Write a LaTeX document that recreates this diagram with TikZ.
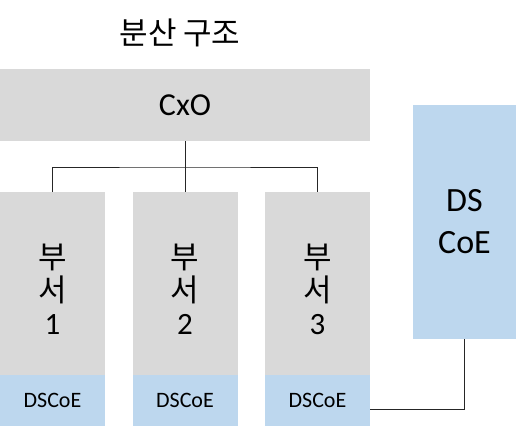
\documentclass[tikz,border=0pt]{standalone}
\usepackage{fontspec}
\setmainfont{Carlito}
\newfontfamily\kr{Noto Sans CJK KR}
\definecolor{boxgray}{HTML}{D9D9D9}
\definecolor{boxblue}{HTML}{BDD7EE}
\begin{document}
\begin{tikzpicture}[x=1pt,y=-1pt,
  graybox/.style={fill=boxgray,draw=none,inner sep=0pt,outer sep=0pt},
  bluebox/.style={fill=boxblue,draw=none,inner sep=0pt,outer sep=0pt},
  conn/.style={draw=black!85,line width=1pt},
  deptlbl/.style={align=center,inner sep=0pt,font=\fontsize{31}{33}\selectfont},
  smalllbl/.style={font=\fontsize{22}{24}\selectfont}]
\useasboundingbox (0,0) rectangle (516,428);
\node[inner sep=0pt,font=\kr\fontsize{31}{34}\selectfont] (title) at (180,33) {분산 구조};
\node[graybox,minimum width=370pt,minimum height=72pt,font=\fontsize{32}{36}\selectfont] (cxo) at (185,105) {CxO};
\foreach \i/\x in {1/52.5,2/185,3/317.5}{
  \node[graybox,minimum width=105pt,minimum height=183pt] (d\i) at (\x,283.5) {};
  \node[deptlbl] (d\i t) at (\x,289) {{\kr 부}\\{\kr 서}\\\i};
  \node[bluebox,minimum width=105pt,minimum height=51pt,smalllbl] (d\i b) at (\x,400.5) {DSCoE};
}
\node[bluebox,minimum width=103pt,minimum height=234pt,align=center,font=\fontsize{34}{42}\selectfont] (ds) at (464.5,222) {DS\\CoE};
\coordinate (j) at (185,167);
\draw[conn] (cxo.south) -- (d2.north);
\draw[conn] (d1.north) |- (j) -| (d3.north);
\draw[conn] ([yshift=-8.5pt]d3b.east) -| (ds.south);
\end{tikzpicture}
\end{document}
